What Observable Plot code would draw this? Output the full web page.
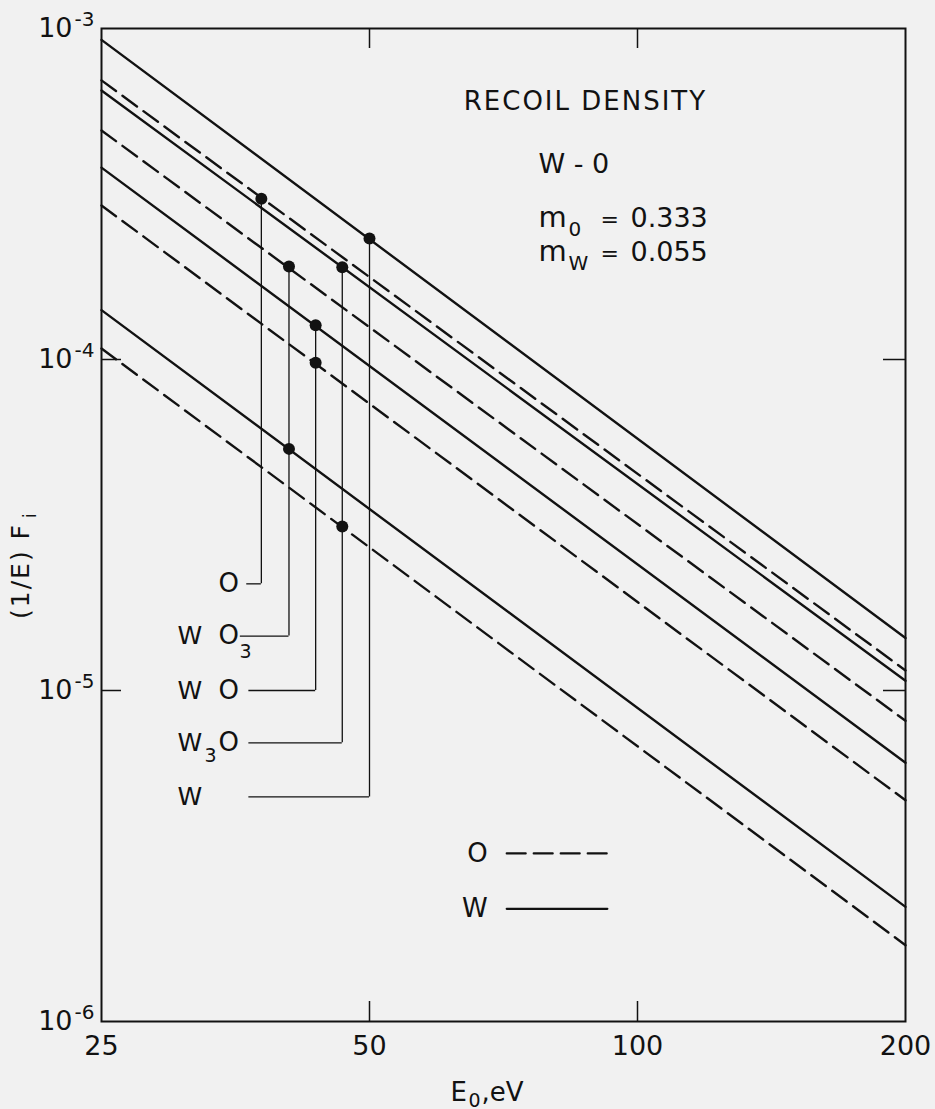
<!DOCTYPE html>
<html><head><meta charset="utf-8">
<script src="https://cdn.jsdelivr.net/npm/d3@7"></script>
<script src="https://cdn.jsdelivr.net/npm/@observablehq/plot@0.6"></script>
<style>
html,body{margin:0;padding:0;background:#f1f1f1;}
#chart svg{display:block}
</style></head><body><div id="chart"></div>
<script>
// ---- data ----
const energyEnds = [25, 200];
const seriesCompound = ["W", "O", "W3O", "WO3", "WO", "WO", "WO3", "W3O"];
const seriesSpecies  = ["W", "O", "W", "O", "W", "O", "W", "O"];
const densityAt25  = [9.24e-4, 6.97e-4, 6.50e-4, 4.92e-4, 3.80e-4, 2.92e-4, 1.41e-4, 1.08e-4];
const densityAt200 = [1.44e-5, 1.15e-5, 1.07e-5, 8.1e-6, 6.05e-6, 4.66e-6, 2.22e-6, 1.70e-6];

const compounds = ["O", "WO3", "WO", "W3O", "W"];
const markerEnergy = [37.8, 40.6, 43.5, 46.6, 50.0];
const labelDensity = [2.10e-5, 1.46e-5, 1.00e-5, 6.95e-6, 4.77e-6];
const connectorStart = [36.4, 35.8, 36.6, 36.6, 36.6];
const labelW    = ["", "W", "W", "W", "W"];
const labelWSub = ["", "", "", "3", ""];
const labelO    = ["O", "O", "O", "O", ""];
const labelOSub = ["", "3", "", "", ""];

const dotCompound = ["O", "WO3", "WO3", "WO", "WO", "W3O", "W3O", "W"];
const dotDensity  = [3.06e-4, 1.91e-4, 5.37e-5, 1.27e-4, 9.77e-5, 1.90e-4, 3.13e-5, 2.32e-4];

const xTicks = [25, 50, 100, 200];
const xInnerTicks = [50, 100];
const yTicks = [1e-3, 1e-4, 1e-5, 1e-6];
const yTickExp = ["-3", "-4", "-5", "-6"];
const yInnerTicks = [1e-4, 1e-5];

const legendSpecies = ["O", "W"];
const legendDensity = [3.22e-6, 2.19e-6];
const legendEnergy = [71.3, 92.5];

const massSub = ["0", "W"];
const massValues = ["0.333", "0.055"];
const massDensity = [2.51e-4, 1.99e-4];

// ---- layout ----
const W = 935, H = 1109, mL = 101, mR = 30, mT = 28, mB = 88;
const fw = W - mL - mR, fh = H - mT - mB;
const ink = "#121212";
const font = "DejaVu Sans";

const rows = seriesCompound.flatMap((c, i) => energyEnds.map((e, j) => ({
  series: i, compound: c, species: seriesSpecies[i], E: e, F: j === 0 ? densityAt25[i] : densityAt200[i]
})));
const dots = dotCompound.map((c, i) => ({compound: c, E: markerEnergy[compounds.indexOf(c)], F: dotDensity[i]}));
const leaders = compounds.map((c, i) => ({
  i, compound: c, E: markerEnergy[i],
  top: d3.max(dots.filter(d => d.compound === c), d => d.F),
  label: labelDensity[i], start: connectorStart[i]
}));
const legendRows = legendSpecies.flatMap((s, i) => legendEnergy.map(e => ({species: s, E: e, F: legendDensity[i]})));

const txt = {fill: ink, fontFamily: font};

const svg = Plot.plot({
  width: W, height: H,
  marginLeft: mL, marginRight: mR, marginTop: mT, marginBottom: mB,
  style: {background: "#f1f1f1", fontFamily: font, color: ink, overflow: "visible"},
  x: {type: "log", domain: [25, 200]},
  y: {type: "log", domain: [1e-6, 1e-3], axis: null},
  marks: [
    // series lines
    Plot.line(rows.filter(d => d.species === "W"), {x: "E", y: "F", z: "series", stroke: ink, strokeWidth: 2.4}),
    Plot.line(rows.filter(d => d.species === "O"), {x: "E", y: "F", z: "series", stroke: ink, strokeWidth: 2.4, strokeDasharray: "18,8"}),
    // leaders
    Plot.ruleX(leaders, {x: "E", y1: "top", y2: "label", stroke: ink, strokeWidth: 1.3}),
    Plot.ruleY(leaders, {y: "label", x1: "start", x2: "E", stroke: ink, strokeWidth: 1.3}),
    Plot.dot(dots, {x: "E", y: "F", r: 6, fill: ink}),
    // frame and inner ticks
    Plot.frame({stroke: ink, strokeWidth: 2}),
    Plot.ruleX(xInnerTicks, {x: d => d, insetTop: fh - 20, stroke: ink, strokeWidth: 1.5}),
    Plot.ruleX(xInnerTicks, {x: d => d, insetBottom: fh - 20, stroke: ink, strokeWidth: 1.5}),
    Plot.ruleY(yInnerTicks, {y: d => d, insetRight: fw - 20, stroke: ink, strokeWidth: 1.5}),
    Plot.ruleY(yInnerTicks, {y: d => d, insetLeft: fw - 22, stroke: ink, strokeWidth: 1.5}),
    // x tick labels
    Plot.axisX(xTicks, {tickSize: 0, tickPadding: 14, fontSize: 27, tickFormat: d => String(d), label: null}),
    // y tick labels
    Plot.text(yTicks, {y: d => d, frameAnchor: "left", dx: -29, text: () => "10", textAnchor: "end", lineAnchor: "middle", fontSize: 27, ...txt}),
    Plot.text(yTicks, {y: d => d, frameAnchor: "left", dx: -27, dy: -9, text: (d, i) => yTickExp[i], textAnchor: "start", lineAnchor: "middle", fontSize: 20, ...txt}),
    // compound labels
    Plot.text(leaders.filter(d => labelW[d.i]), {y: "label", frameAnchor: "left", dx: 76, text: d => labelW[d.i], textAnchor: "start", lineAnchor: "middle", fontSize: 25, ...txt}),
    Plot.text(leaders.filter(d => labelWSub[d.i]), {y: "label", frameAnchor: "left", dx: 103, dy: 19, text: d => labelWSub[d.i], textAnchor: "start", lineAnchor: "bottom", fontSize: 19, ...txt}),
    Plot.text(leaders.filter(d => labelO[d.i]), {y: "label", frameAnchor: "left", dx: 117, text: d => labelO[d.i], textAnchor: "start", lineAnchor: "middle", fontSize: 26, ...txt}),
    Plot.text(leaders.filter(d => labelOSub[d.i]), {y: "label", frameAnchor: "left", dx: 138, dy: 22, text: d => labelOSub[d.i], textAnchor: "start", lineAnchor: "bottom", fontSize: 19, ...txt}),
    // annotation block
    Plot.text(["RECOIL DENSITY"], {x: 63.8, y: 5.69e-4, text: d => d, textAnchor: "start", lineAnchor: "bottom", fontSize: 26, ...txt}),
    Plot.text(["W - 0"], {x: 77.4, y: 3.65e-4, text: d => d, textAnchor: "start", lineAnchor: "bottom", fontSize: 27, ...txt}),
    Plot.text(massSub, {x: 77.4, y: (d, i) => massDensity[i], text: () => "m", textAnchor: "start", lineAnchor: "bottom", fontSize: 29, ...txt}),
    Plot.text(massSub, {x: 77.4, y: (d, i) => massDensity[i], dx: 30, dy: 9, text: d => d, textAnchor: "start", lineAnchor: "bottom", fontSize: 20, ...txt}),
    Plot.text(massSub, {x: 77.4, y: (d, i) => massDensity[i], dx: 62, text: () => "=", textAnchor: "start", lineAnchor: "bottom", fontSize: 22, ...txt}),
    Plot.text(massValues, {x: 77.4, y: (d, i) => massDensity[i], dx: 92, text: d => d, textAnchor: "start", lineAnchor: "bottom", fontSize: 27, ...txt}),
    // legend
    Plot.line(legendRows.filter(d => d.species === "O"), {x: "E", y: "F", stroke: ink, strokeWidth: 2.2, strokeDasharray: "19,8"}),
    Plot.line(legendRows.filter(d => d.species === "W"), {x: "E", y: "F", stroke: ink, strokeWidth: 2.2}),
    Plot.text(legendSpecies, {x: legendEnergy[0], y: (d, i) => legendDensity[i], dx: -19, text: d => d, textAnchor: "end", lineAnchor: "middle", fontSize: 26, ...txt}),
    // x axis title: E0, eV
    Plot.text(["E"], {frameAnchor: "bottom", dx: -53, dy: 79, text: d => d, textAnchor: "start", lineAnchor: "bottom", fontSize: 26, ...txt}),
    Plot.text(["0"], {frameAnchor: "bottom", dx: -35, dy: 85, text: d => d, textAnchor: "start", lineAnchor: "bottom", fontSize: 19, ...txt}),
    Plot.text([",eV"], {frameAnchor: "bottom", dx: -22, dy: 79, text: d => d, textAnchor: "start", lineAnchor: "bottom", fontSize: 26, ...txt}),
    // y axis title: (1/E) F_i
    Plot.text(["(1/E) F"], {frameAnchor: "left", dx: -73, dy: 94, rotate: -90, text: d => d, textAnchor: "start", lineAnchor: "bottom", fontSize: 25, ...txt}),
    Plot.text(["i"], {frameAnchor: "left", dx: -66, dy: -7, rotate: -90, text: d => d, textAnchor: "start", lineAnchor: "bottom", fontSize: 17, ...txt})
  ]
});

d3.select(svg).selectAll("text")
  .filter(function () { return this.textContent === "RECOIL DENSITY" || this.textContent === "(1/E) F"; })
  .attr("letter-spacing", "2px");

document.getElementById("chart").appendChild(svg);
</script>
</body></html>
